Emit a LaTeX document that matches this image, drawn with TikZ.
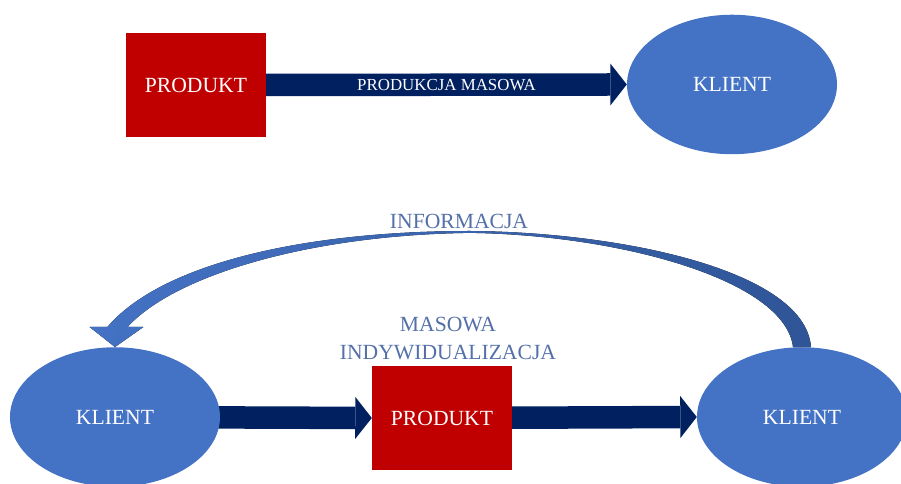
\documentclass[tikz,border=0pt]{standalone}
\usepackage{fontspec}
\setmainfont{Liberation Serif}
\usetikzlibrary{positioning}
\usetikzlibrary{arrows.meta, backgrounds, shapes.geometric}
\definecolor{prodred}{RGB}{192,0,0}
\definecolor{klientblue}{RGB}{68,114,196}
\definecolor{flownavy}{RGB}{0,32,96}
\definecolor{infoblue}{RGB}{47,85,151}
\definecolor{labelblue}{RGB}{84,112,168}

\begin{document}
\begin{tikzpicture}[
  produkt/.style={rectangle,fill=prodred,minimum width=4.667cm,minimum height=3.467cm,text=white,font=\fontsize{20.5}{24}\selectfont},
  klient/.style={ellipse,fill=klientblue,minimum width=7cm,minimum height=4.65cm,inner sep=0pt,text=white,font=\fontsize{20.5}{24}\selectfont},
  flow/.style={flownavy,line width=0.75cm,-{Triangle[width=1.4cm,length=0.55cm,line width=0pt]}},
  flowlabel/.style={text=labelblue,font=\fontsize{20.5}{27}\selectfont}
]
\useasboundingbox (0,0) rectangle (30.033,16.133);

% top row
\node[produkt] (P1) at (6.533,13.3) {PRODUKT};
\node[klient] (K1) at (24.4,13.317) {KLIENT};
\draw[flow] (P1.east) -- (K1.west) node[midway,text=white,font=\fontsize{16}{18}\selectfont] {PRODUKCJA MASOWA};

% bottom row
\node[klient] (K2) at (3.833,2.233) {KLIENT};
\node[produkt] (P2) at (14.733,2.2) {PRODUKT};
\node[klient] (K3) at (26.733,2.233) {KLIENT};
\node[flowlabel,align=center] (MI) at (14.933,4.85) {MASOWA\\INDYWIDUALIZACJA};

\begin{scope}[on background layer]
\draw[flow] (K2.center) -- (P2.west);
\draw[flow] (P2.center) -- (K3.west);
\end{scope}

% feedback arrow
\fill[left color=klientblue,right color=infoblue]
  ([xshift=0.3cm]K3.north) .. controls (26.833,7.133) and (20.667,8.4) .. (15.667,8.433)
  .. controls (10.0,8.433) and (5.333,7.3) .. ([shift={(-0.25,0.67)}]K2.north)
  -- ([shift={(-0.85,0.67)}]K2.north) -- (K2.north) -- ([shift={(0.95,0.67)}]K2.north)
  -- ([shift={(0.42,0.67)}]K2.north)
  .. controls (5.833,6.967) and (10.333,8.3) .. (15.667,8.37)
  .. controls (20.667,8.3) and (26.167,6.8) .. ([xshift=-0.3cm]K3.north) -- cycle;
\node[flowlabel] (INF) at (15.3,8.767) {INFORMACJA};

\end{tikzpicture}
\end{document}
